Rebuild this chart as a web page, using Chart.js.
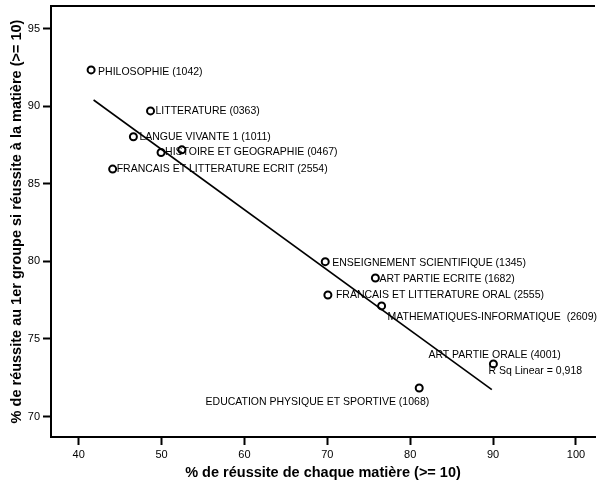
<!DOCTYPE html>
<html>
<head>
<meta charset="utf-8">
<script src="https://cdn.jsdelivr.net/npm/chart.js@4/dist/chart.umd.min.js"></script>
<style>
  body { margin: 0; background: #fff; }
</style>
</head>
<body>
<canvas id="chart" width="601" height="486"></canvas>
<script>
// Subjects (label shown next to each point, '' = no label)
const subjects = [
    'PHILOSOPHIE (1042)',
    'LITTERATURE (0363)',
    'LANGUE VIVANTE 1 (1011)',
    'HISTOIRE ET GEOGRAPHIE (0467)',
    '',
    'FRANCAIS ET LITTERATURE ECRIT (2554)',
    'ENSEIGNEMENT SCIENTIFIQUE (1345)',
    'ART PARTIE ECRITE (1682)',
    'FRANCAIS ET LITTERATURE ORAL (2555)',
    'MATHEMATIQUES-INFORMATIQUE  (2609)',
    'ART PARTIE ORALE (4001)',
    'EDUCATION PHYSIQUE ET SPORTIVE (1068)'
];

// % de réussite de chaque matière
const subjectSuccess = [41.5, 48.67, 46.6, 49.94, 52.45, 44.1, 69.75, 75.8, 70.07, 76.55, 90.04, 81.09];

// % de réussite au 1er groupe
const firstGroupSuccess = [92.34, 89.7, 88.03, 87.02, 87.19, 85.95, 79.98, 78.93, 77.83, 77.13, 73.39, 71.84];

// Fit line end points
const fitX = [41.8, 89.85];
const fitY = [90.4, 71.74];

const rSqText = 'R Sq Linear = 0,918';

const xTitle = '% de réussite de chaque matière (>= 10)';
const yTitle = '% de réussite au 1er groupe si réussite à la matière (>= 10)';

// Label placement next to each marker (pixels)
const labelPlacement = [
    { dx: 7, dy: 2 },
    { dx: 5, dy: 0 },
    { dx: 6, dy: 0 },
    { dx: 4, dy: 0 },
    { dx: 4, dy: 0 },
    { dx: 4, dy: 0 },
    { dx: 7, dy: 1 },
    { dx: 4, dy: 1 },
    { dx: 8, dy: 0 },
    { dx: 6, dy: 11 },
    { dx: -65, dy: -9 },
    { dx: 10, dy: 14, align: 'right' }
];

const FONT = 'Liberation Sans, Arial, sans-serif';

// Draws the point labels, the R Sq note and the top frame line
const pointLabels = {
    id: 'pointLabels',
    afterDatasetsDraw(chart) {
        const ctx = chart.ctx;
        const xs = chart.scales.x;
        const ys = chart.scales.y;
        const area = chart.chartArea;

        ctx.save();
        ctx.fillStyle = '#000';
        ctx.font = '10.5px ' + FONT;
        ctx.textBaseline = 'middle';
        subjects.forEach((name, i) => {
            if (!name) return;
            const p = labelPlacement[i];
            ctx.textAlign = p.align || 'left';
            ctx.fillText(name,
                xs.getPixelForValue(subjectSuccess[i]) + p.dx,
                ys.getPixelForValue(firstGroupSuccess[i]) + p.dy);
        });

        // R Sq note beside the end of the fit line
        ctx.textAlign = 'left';
        ctx.fillText(rSqText, xs.getPixelForValue(89.44), ys.getPixelForValue(72.91));

        // top frame
        ctx.strokeStyle = '#000';
        ctx.lineWidth = 2;
        ctx.beginPath();
        ctx.moveTo(area.left - 1, area.top);
        ctx.lineTo(area.right, area.top);
        ctx.stroke();
        ctx.restore();
    }
};

const ctx = document.getElementById('chart').getContext('2d');
new Chart(ctx, {
    type: 'scatter',
    data: {
        datasets: [{
            label: 'Matières',
            data: subjectSuccess.map((x, i) => ({ x: x, y: firstGroupSuccess[i] })),
            pointStyle: 'circle',
            pointRadius: 3.5,
            pointBorderWidth: 2,
            borderColor: '#000',
            backgroundColor: 'rgba(0,0,0,0)'
        }, {
            label: 'Linear',
            type: 'line',
            data: fitX.map((x, i) => ({ x: x, y: fitY[i] })),
            borderColor: '#000',
            borderWidth: 1.6,
            pointRadius: 0,
            fill: false
        }]
    },
    options: {
        responsive: false,
        animation: false,
        layout: { padding: { top: 5, right: 0, left: 0, bottom: 0 } },
        plugins: {
            legend: { display: false },
            tooltip: { enabled: false }
        },
        scales: {
            x: {
                type: 'linear',
                min: 36.66,
                max: 102.3,
                afterFit: (scale) => {
                    scale.height = 49;
                    scale.paddingLeft = 0;
                    scale.paddingRight = 0;
                },
                border: { display: true, color: '#000', width: 2 },
                grid: { drawOnChartArea: false, drawTicks: true, tickLength: 8, tickColor: '#000', tickWidth: 2 },
                ticks: { stepSize: 10, includeBounds: false, color: '#000', padding: 3, maxRotation: 0,
                         font: { family: FONT, size: 11 } },
                title: { display: true, text: xTitle, color: '#000',
                         padding: { top: 0, bottom: 4 },
                         font: { family: FONT, size: 14.5, weight: 'bold' } }
            },
            y: {
                type: 'linear',
                min: 68.68,
                max: 96.46,
                afterFit: (scale) => {
                    scale.width = 51;
                    scale.paddingTop = 0;
                    scale.paddingBottom = 0;
                },
                border: { display: true, color: '#000', width: 2 },
                grid: { drawOnChartArea: false, drawTicks: true, tickLength: 8, tickColor: '#000', tickWidth: 2 },
                ticks: { stepSize: 5, includeBounds: false, color: '#000', padding: 3,
                         font: { family: FONT, size: 11 } },
                title: { display: true, text: yTitle, color: '#000',
                         padding: { top: 8, bottom: 0 },
                         font: { family: FONT, size: 14.5, weight: 'bold' } }
            }
        }
    },
    plugins: [pointLabels]
});
</script>
</body>
</html>
